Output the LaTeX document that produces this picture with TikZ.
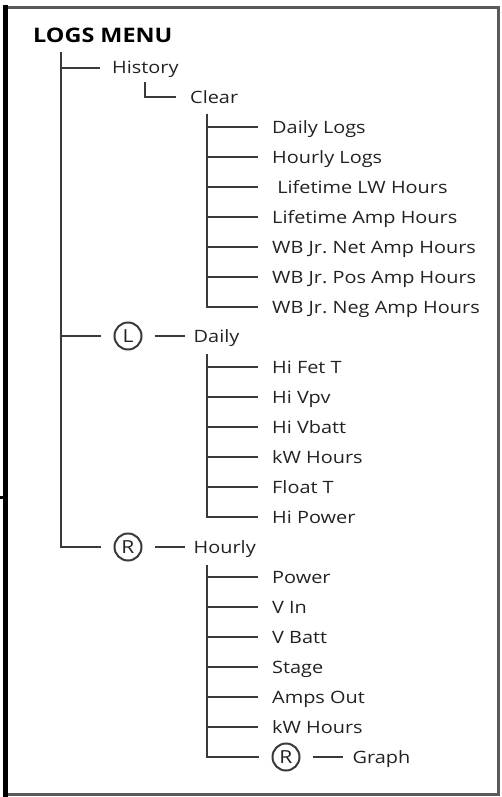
\documentclass[tikz,border=0pt]{standalone}
\usepackage{fontspec}
\setmainfont{Open Sans}[FakeStretch=1.17]
\usetikzlibrary{positioning}
\definecolor{linie}{HTML}{3A3A3A}
\definecolor{schrift}{HTML}{222222}
\definecolor{rahmen}{HTML}{5A5A5A}
\frenchspacing

\begin{document}
\begin{tikzpicture}[x=1pt, y=-1pt,
    eintrag/.style={anchor=west, inner xsep=14pt, inner ysep=0pt,
      text height=12pt, text depth=0pt,
      font=\fontsize{17}{19}\selectfont, text=schrift},
    ast/.style={draw=linie, line width=2.6pt},
    taste/.style={circle, draw=linie, line width=2pt, minimum size=27pt,
      inner sep=0pt, font=\fontsize{18}{18}\selectfont, text=schrift}]
  \useasboundingbox (0,0) rectangle (501,797);

  % --- Rahmen ---
  \draw[rahmen, line width=3pt] (6,7.5) rectangle (498.5,794);
  \draw[black, line width=5pt] (5.5,5) -- (5.5,796.5);
  \draw[black, line width=3pt] (0,497.5) -- (4,497.5);

  % --- Titel und Hauptstamm ---
  \node[anchor=west, inner sep=0pt, font=\bfseries\fontsize{20}{22}\selectfont]
    (menu) at (33,35) {LOGS MENU};
  \coordinate (stamm) at (61,52);

  % History -> Clear
  \node[eintrag, inner xsep=12pt] (history) at (100,68) {History};
  \draw[ast] (stamm) |- (history.west);
  \coordinate (hfuss) at (145,82);
  \node[eintrag] (clear) at (176,97) {Clear};
  \draw[ast] (hfuss) |- (clear.west);

  % Eintraege unter Clear
  \coordinate (cstamm) at (207,114);
  \foreach \txt [count=\i] in {Daily Logs, Hourly Logs, \ Lifetime LW Hours,
      Lifetime Amp Hours, WB Jr. Net Amp Hours, WB Jr. Pos Amp Hours,
      WB Jr. Neg Amp Hours} {
    \node[eintrag] (clear-\i) at (258,{97+30*\i}) {\txt};
    \draw[ast] (cstamm) |- (clear-\i.west);
  }

  % --- Taste L: Daily ---
  \node[taste] (lkey) at (128,336) {L};
  \draw[ast, shorten >=13pt] (stamm) |- (lkey);
  \node[eintrag, right=42pt of lkey, inner xsep=9pt] (daily) {Daily};
  \draw[ast, shorten <=12pt] (lkey) -- (daily);

  \coordinate (dstamm) at (207,354);
  \foreach \txt [count=\i] in {Hi Fet T, Hi Vpv, Hi Vbatt, kW Hours,
      Float T, Hi Power} {
    \node[eintrag] (daily-\i) at (258,{337+30*\i}) {\txt};
    \draw[ast] (dstamm) |- (daily-\i.west);
  }

  % --- Taste R: Hourly ---
  \node[taste] (rkey) at (128,547) {R};
  \draw[ast, shorten >=13pt] (stamm) |- (rkey);
  \node[eintrag, right=42pt of rkey, inner xsep=9pt] (hourly) {Hourly};
  \draw[ast, shorten <=12pt] (rkey) -- (hourly);

  \coordinate (hstamm) at (207,565);
  \foreach \txt [count=\i] in {Power, V In, V Batt, Stage, Amps Out,
      kW Hours} {
    \node[eintrag] (hourly-\i) at (258,{547+30*\i}) {\txt};
    \draw[ast] (hstamm) |- (hourly-\i.west);
  }

  % Graph ueber Taste R
  \node[taste] (gkey) at (286,757) {R};
  \draw[ast, shorten >=13pt] (hstamm) |- (gkey);
  \node[eintrag, right=42pt of gkey, inner xsep=10pt] (graph) {Graph};
  \draw[ast, shorten <=12pt] (gkey) -- (graph);
\end{tikzpicture}
\end{document}
